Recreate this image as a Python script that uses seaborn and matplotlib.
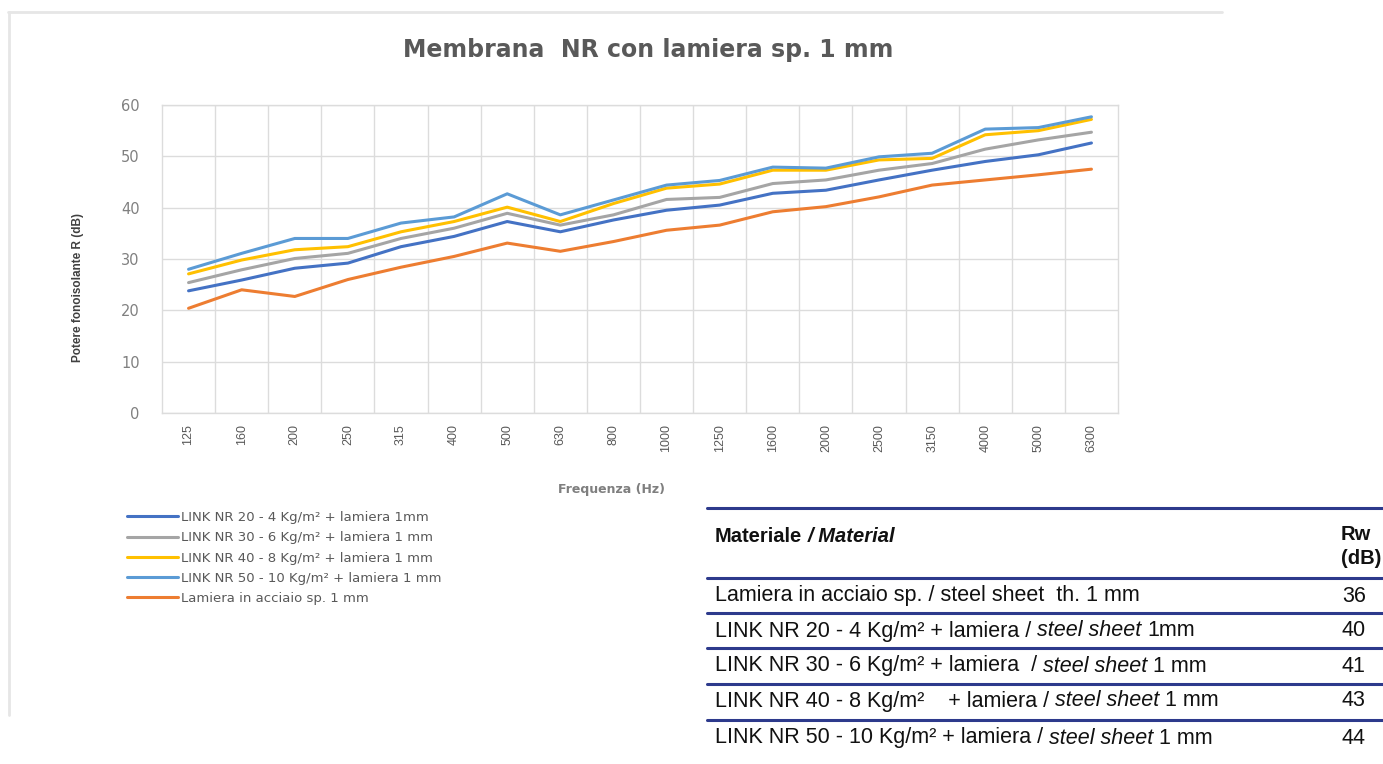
import numpy as np
import pandas as pd
import seaborn as sns
import matplotlib.pyplot as plt
from matplotlib.lines import Line2D

# frequency bands (Hz) on the x axis
freqs = ["125", "160", "200", "250", "315", "400", "500", "630", "800", "1000",
         "1250", "1600", "2000", "2500", "3150", "4000", "5000", "6300"]

# sound reduction index R (dB)
nr20 = [23.8, 25.9, 28.2, 29.2, 32.4, 34.4, 37.3, 35.3, 37.6, 39.5, 40.5, 42.8, 43.4, 45.4, 47.3, 49.0, 50.3, 52.6]
nr30 = [25.4, 27.9, 30.1, 31.1, 34.0, 36.0, 38.9, 36.6, 38.6, 41.6, 42.0, 44.7, 45.4, 47.3, 48.6, 51.4, 53.2, 54.7]
nr40 = [27.1, 29.8, 31.8, 32.4, 35.3, 37.3, 40.1, 37.3, 40.8, 43.8, 44.6, 47.3, 47.3, 49.3, 49.6, 54.2, 55.0, 57.2]
nr50 = [28.0, 31.1, 34.0, 34.0, 37.0, 38.2, 42.7, 38.6, 41.5, 44.4, 45.3, 47.9, 47.7, 49.9, 50.6, 55.3, 55.6, 57.7]
steel = [20.4, 24.0, 22.7, 26.0, 28.4, 30.5, 33.1, 31.5, 33.4, 35.6, 36.6, 39.2, 40.2, 42.1, 44.4, 45.4, 46.4, 47.5]

series_names = ["LINK NR 20 - 4 Kg/m² + lamiera 1mm",
                "LINK NR 30 - 6 Kg/m² + lamiera 1 mm",
                "LINK NR 40 - 8 Kg/m² + lamiera 1 mm",
                "LINK NR 50 - 10 Kg/m² + lamiera 1 mm",
                "Lamiera in acciaio sp. 1 mm"]
series_colors = ["#4472C4", "#A5A5A5", "#FFC000", "#5B9BD5", "#ED7D31"]

# table: (regular part, italic part, trailing part) and Rw values
table_rows = [("Lamiera in acciaio sp. / steel sheet  th. 1 mm", "", ""),
              ("LINK NR 20 - 4 Kg/m² + lamiera /", "steel sheet", "1mm"),
              ("LINK NR 30 - 6 Kg/m² + lamiera  /", "steel sheet", "1 mm"),
              ("LINK NR 40 - 8 Kg/m²    + lamiera /", "steel sheet", "1 mm"),
              ("LINK NR 50 - 10 Kg/m² + lamiera /", "steel sheet", "1 mm")]
table_rw = [36, 40, 41, 43, 44]

sns.set_style("white")
plt.rcParams["font.family"] = ["DejaVu Sans"]

W, H = 1383, 764


def fx(x):
    return x / W


def fy(y):
    return 1 - y / H


values = nr20 + nr30 + nr40 + nr50 + steel
df = pd.DataFrame({
    "pos": list(range(len(freqs))) * len(series_names),
    "value": values,
    "series": np.repeat(series_names, len(freqs)),
})

fig = plt.figure(figsize=(W / 100, H / 100), dpi=100)
ax = fig.add_axes([fx(162), fy(413), fx(1118) - fx(162), fy(105) - fy(413)])

sns.lineplot(data=df, x="pos", y="value", hue="series", hue_order=series_names,
             palette=series_colors, linewidth=2.2, sort=False, ax=ax)

ax.set_xlim(-0.5, len(freqs) - 0.5)
ax.set_ylim(0, 60)
ax.set_xticks(range(len(freqs)))
ax.set_xticklabels(freqs, rotation=90, family="Liberation Sans", fontsize=9, color="#595959")
ax.set_xticks(np.arange(0.5, len(freqs) - 1, 1), minor=True)
ax.set_yticks(range(0, 61, 10))
ax.tick_params(axis="y", labelsize=10.5, labelcolor="#808080", length=0, pad=16)
ax.tick_params(axis="x", which="both", length=0, pad=8)
ax.grid(which="minor", axis="x", color="#dcdcdc", lw=1)
ax.grid(which="major", axis="y", color="#dcdcdc", lw=1)
ax.set_xlabel("")
ax.set_ylabel("")
for s in ax.spines.values():
    s.set_color("#dcdcdc")
    s.set_linewidth(1)

handles, labels = ax.get_legend_handles_labels()
ax.get_legend().remove()
fig.legend(handles, labels, loc="upper left", bbox_to_anchor=(fx(127), fy(511)),
           frameon=False, fontsize=9.5, handlelength=3.9, handletextpad=0.2,
           labelspacing=0.55, borderpad=0, borderaxespad=0, labelcolor="#595959")

fig.text(fx(648), fy(50), "Membrana  NR con lamiera sp. 1 mm", ha="center", va="center",
         fontsize=17, weight="bold", color="#595959")
fig.text(fx(612), fy(489), "Frequenza (Hz)", ha="center", va="center",
         fontsize=9, weight="bold", color="#7f7f7f")
fig.text(fx(78), fy(287), "Potere fonoisolante R (dB)", rotation=90, ha="center", va="center",
         family="Liberation Sans", weight="bold", fontsize=8.5, color="#404040")

# faint frame of the chart block
fig.add_artist(Line2D([fx(8), fx(1222)], [fy(12), fy(12)], color="#e6e6e6", lw=2,
                      transform=fig.transFigure))
fig.add_artist(Line2D([fx(9), fx(9)], [fy(12), fy(715)], color="#e6e6e6", lw=2,
                      transform=fig.transFigure))

# table
navy = "#2d3a8c"
for y in [508, 578, 613, 648, 684, 720]:
    fig.add_artist(Line2D([fx(707), 1.0], [fy(y), fy(y)], color=navy, lw=2.2,
                          transform=fig.transFigure))

tsize = 15.5
tfont = "Liberation Sans"
gap = tsize * 0.278


def rich_text(x, y, parts, size=tsize):
    prev = None
    for text, style, weight in parts:
        if not text:
            continue
        if prev is None:
            prev = fig.text(x, y, text, ha="left", va="center", family=tfont, fontsize=size,
                            style=style, weight=weight, color="#111111")
        else:
            prev = ax.annotate(text, xy=(1, 0), xycoords=prev, xytext=(size * 0.278, 0),
                               textcoords="offset points", ha="left", va="bottom",
                               family=tfont, fontsize=size, style=style, weight=weight,
                               color="#111111", annotation_clip=False)


rich_text(fx(715), fy(536), [("Materiale", "normal", "bold"), ("/ Material", "italic", "bold")],
          size=14.5)
fig.text(fx(1341), fy(535), "Rw", ha="left", va="center", family=tfont, fontsize=14.5,
         weight="bold", color="#111111")
fig.text(fx(1341), fy(558), "(dB)", ha="left", va="center", family=tfont, fontsize=14.5,
         weight="bold", color="#111111")

row_y = [596, 631, 666, 701, 738]
for (a, b, c), rw, y in zip(table_rows, table_rw, row_y):
    rich_text(fx(715), fy(y), [(a, "normal", "normal"), (b, "italic", "normal"), (c, "normal", "normal")])
    fig.text(fx(1342), fy(y), str(rw), ha="left", va="center", family=tfont, fontsize=tsize,
             color="#111111")

fig.savefig("out.png", dpi=100)
